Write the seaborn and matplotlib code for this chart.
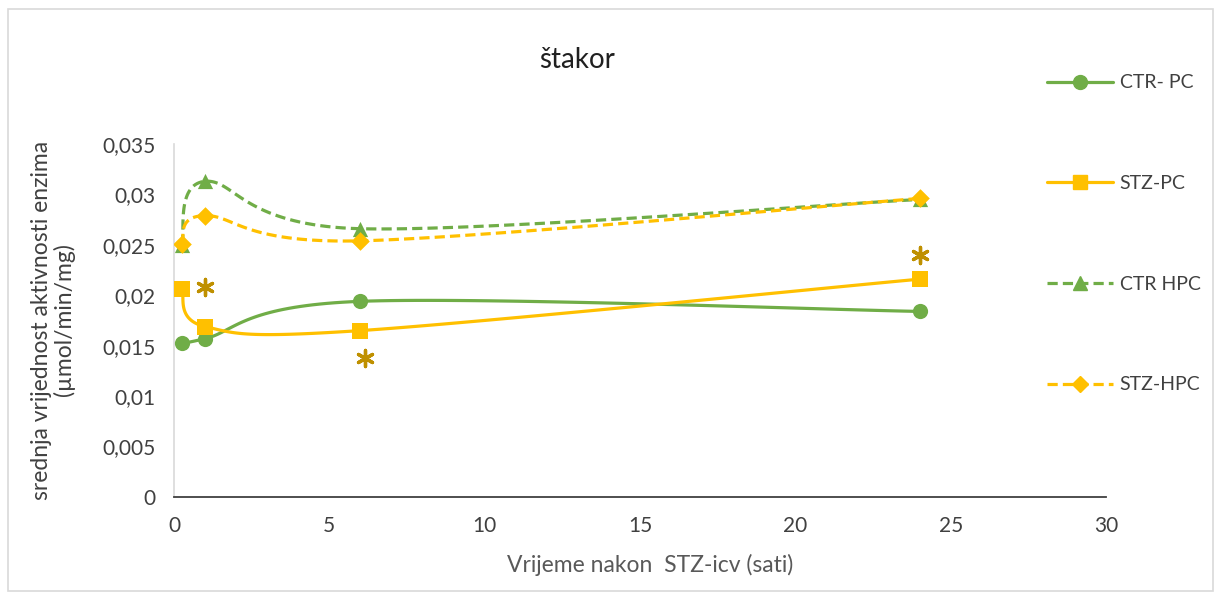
import numpy as np
import pandas as pd
import matplotlib
matplotlib.use("Agg")
import matplotlib.pyplot as plt
import seaborn as sns
from matplotlib.lines import Line2D
from matplotlib.patches import Rectangle
from matplotlib.ticker import FuncFormatter, MultipleLocator

sns.set_style("white")
plt.rcParams["font.family"] = ["Lato", "DejaVu Sans"]

# --- data ---
hours = [0.25, 1, 6, 24]
ctr_pc = [0.0153, 0.0157, 0.0194, 0.0184]
stz_pc = [0.0206, 0.0169, 0.0165, 0.0216]
ctr_hpc = [0.0250, 0.0313, 0.0266, 0.0295]
stz_hpc = [0.0251, 0.0279, 0.0254, 0.0296]

series_names = ["CTR- PC", "STZ-PC", "CTR HPC", "STZ-HPC"]
series_values = [ctr_pc, stz_pc, ctr_hpc, stz_hpc]

# significance stars (x, y)
star_x = [1.0, 6.15, 24.0]
star_y = [0.0208, 0.0138, 0.0240]

GREEN = "#70AD47"
GOLD = "#FFC000"
STAR = "#BF9000"
styles = {
    "CTR- PC": dict(color=GREEN, marker="o", ls="-"),
    "STZ-PC": dict(color=GOLD, marker="s", ls="-"),
    "CTR HPC": dict(color=GREEN, marker="^", ls=(0, (3.2, 1.6))),
    "STZ-HPC": dict(color=GOLD, marker="D", ls=(0, (3.2, 1.6))),
}


def excel_smooth(x, y, n=40):
    # Excel-style smoothed line: cubic bezier with catmull-rom control points
    x = np.asarray(x, float)
    y = np.asarray(y, float)
    px = np.concatenate([[x[0]], x, [x[-1]]])
    py = np.concatenate([[y[0]], y, [y[-1]]])
    t = np.linspace(0, 1, n)
    xs, ys = [], []
    for i in range(1, len(px) - 2):
        p0 = np.array([px[i], py[i]])
        p3 = np.array([px[i + 1], py[i + 1]])
        c1 = p0 + (np.array([px[i + 1], py[i + 1]]) - np.array([px[i - 1], py[i - 1]])) / 6
        c2 = p3 - (np.array([px[i + 2], py[i + 2]]) - np.array([px[i], py[i]])) / 6
        b = ((1 - t) ** 3)[:, None] * p0 + (3 * (1 - t) ** 2 * t)[:, None] * c1 \
            + (3 * (1 - t) * t ** 2)[:, None] * c2 + (t ** 3)[:, None] * p3
        xs.append(b[:, 0])
        ys.append(b[:, 1])
    return np.concatenate(xs), np.concatenate(ys)


fig = plt.figure(figsize=(12.2, 5.99), dpi=100)
fig.patches.append(Rectangle((8 / 1220, 8 / 599), 1205 / 1220, 582 / 599,
                             transform=fig.transFigure, fill=False,
                             edgecolor="#D9D9D9", lw=1.2))
ax = fig.add_axes([174 / 1220, 1 - 497 / 599, 932 / 1220, 353 / 599])

for name, vals in zip(series_names, series_values):
    st = styles[name]
    sx, sy = excel_smooth(hours, vals)
    ax.plot(sx, sy, color=st["color"], lw=2.3, ls=st["ls"], zorder=2)
    df = pd.DataFrame({"h": hours, "v": vals})
    sns.scatterplot(data=df, x="h", y="v", ax=ax, marker=st["marker"],
                    color=st["color"], s=120 if st["marker"] != "D" else 90,
                    edgecolor=st["color"], linewidth=0, zorder=3)

stars = pd.DataFrame({"x": star_x, "y": star_y})
sns.scatterplot(data=stars, x="x", y="y", ax=ax, marker=(6, 2, 0), s=135,
                color=STAR, edgecolor=STAR, linewidth=2.4, zorder=4)

ax.set_xlim(0, 30)
ax.set_ylim(0, 0.035)
ax.xaxis.set_major_locator(MultipleLocator(5))
ax.yaxis.set_major_locator(MultipleLocator(0.005))
ax.yaxis.set_major_formatter(FuncFormatter(lambda v, p: f"{v:g}".replace(".", ",")))

for s in ["top", "right"]:
    ax.spines[s].set_visible(False)
ax.spines["bottom"].set_color("#404040")
ax.spines["bottom"].set_linewidth(1.3)
ax.spines["left"].set_color("#D9D9D9")
ax.spines["left"].set_linewidth(1.2)
ax.tick_params(axis="x", direction="out", length=7, width=1.3, color="#404040",
               labelsize=15, labelcolor="#404040", pad=7)
ax.tick_params(axis="y", direction="out", length=7, width=1.2, color="#D9D9D9",
               labelsize=15, labelcolor="#404040", pad=6)

ax.set_xlabel("")
ax.set_ylabel("")
fig.text(650 / 1220, 1 - 565 / 599, "Vrijeme nakon  STZ-icv (sati)", fontsize=16.5,
         color="#595959", ha="center", va="center")
fig.text(53 / 1220, 1 - 320 / 599, "srednja vrijednost aktivnosti enzima\n(µmol/min/mg)",
         fontsize=16.5, color="#404040", ha="center", va="center", rotation=90,
         linespacing=1.05)
fig.text(577 / 1220, 1 - 60 / 599, "štakor", fontsize=20, color="#202020",
         ha="center", va="center")

handles = [Line2D([], [], color=styles[n]["color"], marker=styles[n]["marker"],
                  ls=styles[n]["ls"], lw=2.3, markersize=10 if styles[n]["marker"] != "D" else 8)
           for n in series_names]
fig.legend(handles, series_names, loc="upper left",
           bbox_to_anchor=(1029 / 1220, 1 - 57 / 599), frameon=False,
           fontsize=14, labelcolor="#404040", labelspacing=4.3,
           handlelength=3.4, handletextpad=0.36)

fig.savefig("out.png", dpi=100)
